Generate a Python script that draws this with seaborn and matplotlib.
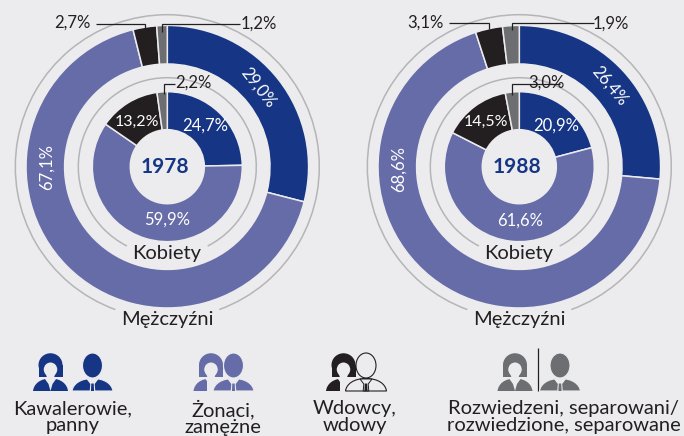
import matplotlib
matplotlib.use('Agg')
import matplotlib.pyplot as plt
import seaborn as sns
from matplotlib.patches import Arc, Ellipse, PathPatch, Polygon, Rectangle
from matplotlib.path import Path

# values, clockwise from the top: single, married, widowed, divorced
years = ["1978", "1988"]
men_1978 = [29.0, 67.1, 2.7, 1.2]
women_1978 = [24.7, 59.9, 13.2, 2.2]
men_1988 = [26.4, 68.6, 3.1, 1.9]
women_1988 = [20.9, 61.6, 14.5, 3.0]
men_name = "Mężczyźni"
women_name = "Kobiety"
legend_labels = ["Kawalerowie,\npanny", "Żonaci,\nzamężne", "Wdowcy,\nwdowy",
                 "Rozwiedzeni, separowani/\nrozwiedzione, separowane"]

BLUE = "#163585"
PURPLE = "#666CA7"
BLACK = "#231F20"
GRAY = "#6D6E71"
BG = "#ECECEE"
RING = "#B5B5B7"
TEXT = "#231F20"
colors = sns.color_palette([BLUE, PURPLE, BLACK, GRAY])

sns.set_theme(style="white", rc={"figure.facecolor": BG, "savefig.facecolor": BG})
plt.rcParams['font.family'] = ['Lato', 'DejaVu Sans']

W, H = 684, 436


def Y(py):
    return H - py


def pts(*xy):
    return [(x, Y(y)) for x, y in xy]


def pct(v):
    return f"{v:.1f}%".replace(".", ",")


def donut(ax, cx, values, r_out, r_in):
    ax.pie(values, colors=colors, startangle=90, counterclock=False,
           center=(cx, Y(166.7)), radius=r_out,
           wedgeprops=dict(width=r_out - r_in, edgecolor=BG, linewidth=1.1))


def ring(ax, cx, r, gap):
    # open at the bottom, the name of the group sits in the gap
    ax.add_patch(Arc((cx, Y(166.7)), 2 * r, 2 * r, theta1=-90 + gap, theta2=270 - gap,
                     color=RING, lw=1.1))


def leader(ax, xs, ys):
    ax.plot(xs, [Y(v) for v in ys], color=TEXT, lw=0.9, solid_joinstyle="miter",
            solid_capstyle="butt")


def label(ax, x, y, s, size=12, color=TEXT, **kw):
    ax.text(x, Y(y), s, size=size, color=color, ha="center", va="center", **kw)


def shoulders(x, half, fc, ec, lw, z):
    b, t = Y(391), Y(378.5)
    verts = [(x - half, b), (x - half * 0.95, b + 7), (x - half * 0.6, t), (x, t),
             (x + half * 0.6, t), (x + half * 0.95, b + 7), (x + half, b), (x - half, b)]
    codes = [Path.MOVETO, Path.CURVE4, Path.CURVE4, Path.CURVE4,
             Path.CURVE4, Path.CURVE4, Path.CURVE4, Path.CLOSEPOLY]
    return PathPatch(Path(verts, codes), fc=fc, ec=ec, lw=lw, zorder=z)


def woman(ax, x, color, cut=False, z=3):
    ax.add_patch(shoulders(x, 17.5, color, "none", 0, z))
    ax.add_patch(Polygon(pts((x - 7, 377), (x + 7, 377), (x + 2, 384), (x, 391), (x - 2, 384)),
                         fc=BG, lw=0, zorder=z + .1))
    # hair, then the face cut out of it
    ax.add_patch(Ellipse((x, Y(365)), 24, 23.5, fc=color, lw=0, zorder=z + .2))
    ax.add_patch(Rectangle((x - 12, Y(377)), 24, 12, fc=color, lw=0, zorder=z + .2))
    ax.add_patch(Ellipse((x, Y(369.5)), 13.5, 14, fc=BG, lw=0, zorder=z + .3))
    ax.add_patch(Polygon(pts((x - 5, 373), (x + 5, 373), (x + 3, 379), (x - 3, 379)),
                         fc=BG, lw=0, zorder=z + .3))
    if cut:
        ax.add_patch(Rectangle((x - 4, Y(391)), 22, 13, fc=BG, lw=0, zorder=z + .1))


def man(ax, x, color, outline=False, z=4):
    fc = BG if outline else color
    ec = color if outline else BG
    ax.add_patch(shoulders(x, 20.5, fc, ec, 0.8, z))
    ax.add_patch(Ellipse((x, Y(365.5)), 20, 25, fc=fc, ec=ec, lw=0.8, zorder=z + .2))
    # collar and tie
    ax.add_patch(Polygon(pts((x - 6, 379), (x + 6, 379), (x + 2.2, 384), (x + 2.8, 391), (x - 2.8, 391), (x - 2.2, 384)),
                         fc=BG, ec=color if outline else "none", lw=0.7 if outline else 0, zorder=z + .3))
    ax.add_patch(Polygon(pts((x - 1.2, 383.5), (x + 1.2, 383.5), (x + 1.6, 391), (x - 1.6, 391)),
                         fc=color, lw=0, zorder=z + .4))


fig = plt.figure(figsize=(6.84, 4.36), dpi=100)
ax = fig.add_axes([0, 0, 1, 1])

panels = [
    dict(cx=167.3, men=men_1978, women=women_1978, year=years[0]),
    dict(cx=519.3, men=men_1988, women=women_1988, year=years[1]),
]
for p in panels:
    donut(ax, p["cx"], p["men"], 141.3, 102.7)
    donut(ax, p["cx"], p["women"], 75, 37)
    ring(ax, p["cx"], 152, 20)
    ring(ax, p["cx"], 89, 27)
    label(ax, p["cx"] - 1, 253, women_name, size=14.5)
    label(ax, p["cx"], 319, men_name, size=14.5)
    label(ax, p["cx"] - 2, 167, p["year"], size=15, color=BLUE, fontweight="bold")

m, w = men_1978, women_1978
label(ax, 258, 88, pct(m[0]), color="white", rotation=-52)
label(ax, 47, 167, pct(m[1]), color="white", rotation=90)
label(ax, 72, 23, pct(m[2]))
label(ax, 259, 24, pct(m[3]))
label(ax, 205, 126, pct(w[0]), color="white")
label(ax, 167, 220, pct(w[1]), color="white")
label(ax, 137, 122, pct(w[2]), color="white", size=11.5)
label(ax, 193, 83, pct(w[3]))
leader(ax, [96, 145, 145], [24, 24, 28])
leader(ax, [240, 162, 162], [24, 24, 32])
leader(ax, [175, 163.5, 163.5], [84, 84, 94])

m, w = men_1988, women_1988
label(ax, 610, 86, pct(m[0]), color="white", rotation=-50)
label(ax, 399, 169, pct(m[1]), color="white", rotation=90)
label(ax, 425, 23, pct(m[2]))
label(ax, 611, 24, pct(m[3]))
label(ax, 556, 126, pct(w[0]), color="white")
label(ax, 520, 221, pct(w[1]), color="white")
label(ax, 486, 122, pct(w[2]), color="white", size=11.5)
label(ax, 546, 83, pct(w[3]))
leader(ax, [449, 489, 489], [23, 23, 29])
leader(ax, [594, 512, 512], [23, 23, 30])
leader(ax, [560, 512, 512], [84, 84, 95])

# legend icons
woman(ax, 50.5, BLUE)
man(ax, 92.5, BLUE)
woman(ax, 211, PURPLE, cut=True)
man(ax, 233.5, PURPLE)
woman(ax, 343.5, BLACK, cut=True)
man(ax, 366, BLACK, outline=True)
woman(ax, 515, GRAY)
man(ax, 560, GRAY)
leader(ax, [538, 538], [348, 391])

for x, y, s in zip([73, 223, 355, 564], [417, 417.5, 417, 417], legend_labels):
    ax.text(x, Y(y), s, size=14.5, color=TEXT, ha="center", va="center", linespacing=0.95)

ax.set_xlim(0, W)
ax.set_ylim(0, H)
ax.set_aspect("equal")
ax.axis("off")

fig.savefig("out.png", dpi=100, facecolor=BG)
plt.close(fig)
